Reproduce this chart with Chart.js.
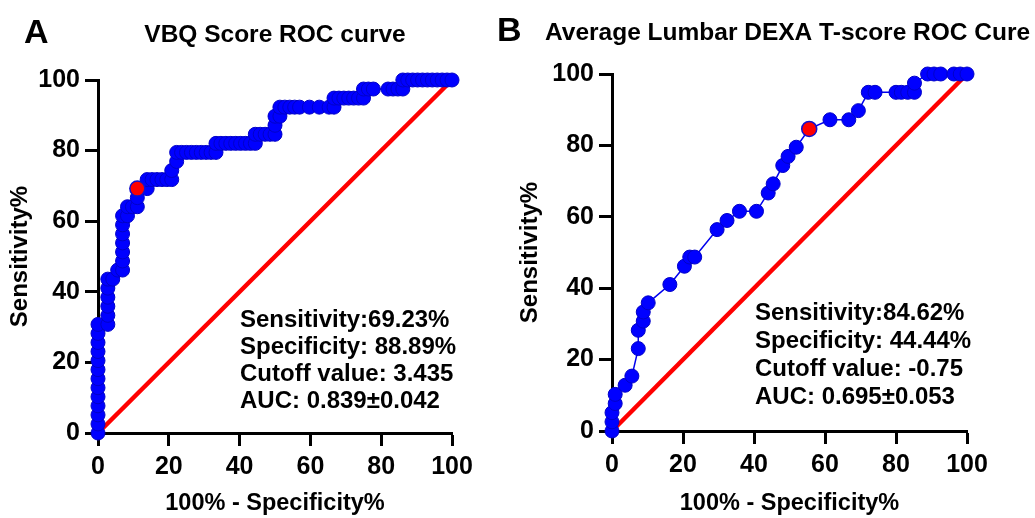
<!DOCTYPE html>
<html>
<head>
<meta charset="utf-8">
<title>ROC curves</title>
<script src="https://cdn.jsdelivr.net/npm/chart.js@4.4.0/dist/chart.umd.min.js"></script>
<style>
    html, body { margin: 0; padding: 0; background: #fff; }
    #wrap { position: relative; width: 1035px; height: 518px; overflow: hidden; }
    .panel { position: absolute; top: 0; }
</style>
</head>
<body>
<div id="wrap">
    <div class="panel" style="left:0"><canvas id="chartA" width="490" height="518"></canvas></div>
    <div class="panel" style="left:490px"><canvas id="chartB" width="545" height="518"></canvas></div>
</div>
<script>
// Panel A - VBQ score ROC (100% - specificity, sensitivity)
const vbqFpr = [0, 0, 0, 0, 0, 0, 0, 0, 0, 0, 0, 0, 0,
    2.78, 2.78, 2.78, 2.78, 2.78, 2.78, 4.17, 5.56, 6.94, 6.94, 6.94, 6.94, 6.94, 6.94, 6.94,
    8.33, 8.33, 9.72, 11.11, 11.11, 11.11, 13.89, 13.89, 15.28, 16.67, 18.06, 19.44, 20.83, 20.83,
    22.22, 22.22, 23.61, 25, 26.39, 27.78, 29.17, 30.56, 31.94, 33.33, 33.33, 34.72, 36.11, 37.5,
    38.89, 40.28, 41.67, 43.06, 44.44, 44.44, 45.83, 47.22, 48.61, 50, 50, 50, 51.39, 51.39,
    52.78, 54.17, 55.56, 56.94, 59.72, 62.5, 65.28, 66.67, 66.67, 68.06, 69.44, 70.83, 72.22,
    73.61, 75, 75, 76.39, 77.78, 81.94, 83.33, 84.72, 86.11, 86.11, 87.5, 88.89, 90.28, 91.67,
    93.06, 94.44, 95.83, 97.22, 98.61, 100];
const vbqSens = [0, 2.56, 5.13, 7.69, 10.26, 12.82, 15.38, 17.95, 20.51, 23.08, 25.64, 28.21, 30.77,
    30.77, 33.33, 35.9, 38.46, 41.03, 43.59, 43.59, 46.15, 46.15, 48.72, 51.28, 53.85, 56.41, 58.97, 61.54,
    61.54, 64.1, 64.1, 64.1, 66.67, 69.23, 69.23, 71.79, 71.79, 71.79, 71.79, 71.79, 71.79, 74.36,
    76.92, 79.49, 79.49, 79.49, 79.49, 79.49, 79.49, 79.49, 79.49, 79.49, 82.05, 82.05, 82.05, 82.05,
    82.05, 82.05, 82.05, 82.05, 82.05, 84.62, 84.62, 84.62, 84.62, 84.62, 87.18, 89.74, 89.74, 92.31,
    92.31, 92.31, 92.31, 92.31, 92.31, 92.31, 92.31, 92.31, 94.87, 94.87, 94.87, 94.87, 94.87,
    94.87, 94.87, 97.44, 97.44, 97.44, 97.44, 97.44, 97.44, 97.44, 100, 100, 100, 100, 100,
    100, 100, 100, 100, 100, 100];
const vbqCutoff = { fpr: 11.11, sens: 69.23 };
const vbqTitle = 'VBQ Score ROC curve';
const vbqStats = ['Sensitivity:69.23%', 'Specificity: 88.89%', 'Cutoff value: 3.435', 'AUC: 0.839±0.042'];

// Panel B - average lumbar DEXA T-score ROC
const dexaFpr = [0, 0, 0, 0.9, 0.9, 3.7, 5.6, 7.4, 7.4, 8.8, 8.8, 10.2, 16.3, 20.4, 21.9, 23.3,
    29.6, 32.4, 35.9, 40.7, 44, 45.4, 48.1, 49.6, 51.9, 55.56, 61.4, 66.7, 69.4, 72.2, 74.1,
    80, 81.5, 83.3, 85.2, 85.2, 88.9, 90.7, 92.6, 96.3, 98.1, 100];
const dexaSens = [0, 2.56, 5.13, 7.69, 10.26, 12.82, 15.38, 23.08, 28.21, 30.77, 33.33, 35.9, 41.03, 46.15, 48.72, 48.72,
    56.41, 58.97, 61.54, 61.54, 66.67, 69.23, 74.36, 76.92, 79.49, 84.62, 87.18, 87.18, 89.74, 94.87, 94.87,
    94.87, 94.87, 94.87, 94.87, 97.44, 100, 100, 100, 100, 100, 100];
const dexaCutoff = { fpr: 55.56, sens: 84.62 };
const dexaTitle = 'Average Lumbar DEXA T-score ROC Cure';
const dexaStats = ['Sensitivity:84.62%', 'Specificity: 44.44%', 'Cutoff value: -0.75', 'AUC: 0.695±0.053'];

const refLine = { fpr: [0, 100], sens: [0, 100] };
const axisTicks = [0, 20, 40, 60, 80, 100];
const xTitle = '100% - Specificity%';
const yTitle = 'Sensitivity%';

const FONT = 'Arial, "Liberation Sans", sans-serif';

function toPoints(xs, ys) {
    return xs.map((x, i) => ({ x: x, y: ys[i] }));
}

// draws the panel letter, the title and the stats box
function panelText(cfg) {
    return {
        id: 'panelText',
        afterDraw(chart) {
            const ctx = chart.ctx;
            const area = chart.chartArea;
            ctx.save();
            ctx.fillStyle = '#000';
            ctx.textBaseline = 'alphabetic';
            ctx.textAlign = 'left';
            ctx.font = 'bold 34px ' + FONT;
            ctx.fillText(cfg.letter, cfg.letterX, cfg.titleY + 1);
            ctx.font = 'bold 24.5px ' + FONT;
            if (cfg.titleX == null) {
                ctx.textAlign = 'center';
                ctx.fillText(cfg.title, (area.left + area.right) / 2, cfg.titleY);
            } else {
                ctx.fillText(cfg.title, cfg.titleX, cfg.titleY);
            }
            ctx.textAlign = 'left';
            ctx.textBaseline = 'middle';
            ctx.font = 'bold 24px ' + FONT;
            cfg.stats.forEach((s, i) => {
                ctx.fillText(s, cfg.statsX, cfg.statsY + i * cfg.statsGap);
            });
            ctx.restore();
        }
    };
}

function makeChart(canvasId, opts) {
    const scaleBase = {
        type: 'linear',
        min: 0,
        max: 100,
        afterBuildTicks: s => { s.ticks = axisTicks.map(v => ({ value: v })); },
        border: { display: true, color: '#000', width: 3 },
        grid: { display: true, drawOnChartArea: false, drawTicks: true, tickLength: 13, tickWidth: 3, color: '#000' },
        ticks: { color: '#000', font: { family: FONT, size: 25, weight: 'bold' } }
    };
    return new Chart(document.getElementById(canvasId), {
        type: 'scatter',
        data: {
            datasets: [
                {
                    data: [{ x: opts.cutoff.fpr, y: opts.cutoff.sens }],
                    backgroundColor: '#ff0000',
                    borderColor: '#1010d0',
                    borderWidth: 1.5,
                    pointRadius: 7.5,
                    clip: false
                },
                {
                    data: toPoints(opts.fpr, opts.sens),
                    showLine: true,
                    borderColor: '#0000ee',
                    borderWidth: 1.5,
                    backgroundColor: '#0000ff',
                    pointBorderColor: '#0000c8',
                    pointBorderWidth: 1,
                    pointRadius: 7,
                    clip: false
                },
                {
                    data: toPoints(refLine.fpr, refLine.sens),
                    showLine: true,
                    borderColor: '#ff0000',
                    borderWidth: 4.5,
                    pointRadius: 0,
                    clip: false
                }
            ]
        },
        options: {
            responsive: false,
            animation: false,
            events: [],
            layout: { padding: { top: opts.top, right: opts.right, bottom: 0, left: 0 } },
            plugins: { legend: { display: false }, tooltip: { enabled: false } },
            scales: {
                x: Object.assign({}, scaleBase, {
                    position: 'bottom',
                    ticks: Object.assign({}, scaleBase.ticks, { padding: 6, maxRotation: 0 }),
                    title: { display: true, text: xTitle, color: '#000', padding: { top: 0, bottom: 0 },
                        font: { family: FONT, size: 23.5, weight: 'bold' } },
                    afterFit: s => { s.height = opts.xHeight; }
                }),
                y: Object.assign({}, scaleBase, {
                    position: 'left',
                    ticks: Object.assign({}, scaleBase.ticks, { padding: 5 }),
                    title: { display: true, text: yTitle, color: '#000', padding: { top: opts.yTitlePad, bottom: 0 },
                        font: { family: FONT, size: 24, weight: 'bold' } },
                    afterFit: s => { s.width = opts.yWidth; }
                })
            }
        },
        plugins: [panelText(opts.text)]
    });
}

makeChart('chartA', {
    fpr: vbqFpr, sens: vbqSens, cutoff: vbqCutoff,
    top: 80, right: 38, xHeight: 85, yWidth: 98, yTitlePad: 6,
    text: { letter: 'A', letterX: 24, title: vbqTitle, titleX: null, titleY: 42,
        stats: vbqStats, statsX: 240, statsY: 320, statsGap: 27 }
});

makeChart('chartB', {
    fpr: dexaFpr, sens: dexaSens, cutoff: dexaCutoff,
    top: 74, right: 68, xHeight: 87, yWidth: 122, yTitlePad: 26,
    text: { letter: 'B', letterX: 7, title: dexaTitle, titleX: 55, titleY: 40,
        stats: dexaStats, statsX: 265, statsY: 313, statsGap: 28 }
});
</script>
</body>
</html>
